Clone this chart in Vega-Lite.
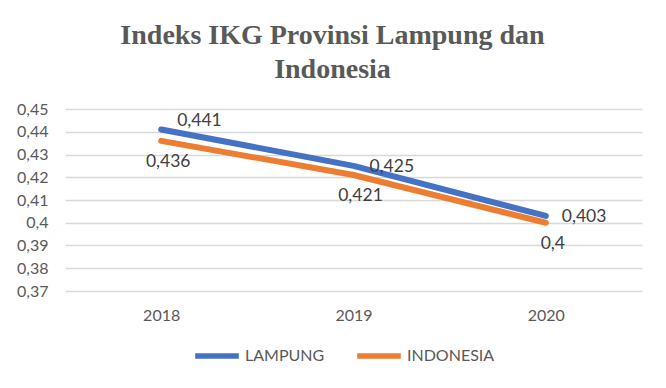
{
  "$schema": "https://vega.github.io/schema/vega-lite/v6.json",
  "width": 577,
  "height": 182,
  "autosize": {"type": "none"},
  "padding": {"left": 65, "top": 109, "right": 24, "bottom": 97},
  "background": "white",
  "config": {
    "locale": {"number": {"decimal": ",", "thousands": ".", "grouping": [3], "currency": ["", ""]}},
    "view": {"stroke": null},
    "font": "Lato"
  },
  "title": {
    "text": ["Indeks IKG Provinsi Lampung dan", "Indonesia"],
    "font": "Liberation Serif",
    "fontSize": 28,
    "fontWeight": "bold",
    "color": "#595959",
    "anchor": "middle",
    "frame": "group",
    "dx": -21,
    "lineHeight": 34,
    "offset": 17
  },
  "data": {
    "values": [
      {"year": "2018", "series": "LAMPUNG", "value": 0.441},
      {"year": "2019", "series": "LAMPUNG", "value": 0.425},
      {"year": "2020", "series": "LAMPUNG", "value": 0.403},
      {"year": "2018", "series": "INDONESIA", "value": 0.436},
      {"year": "2019", "series": "INDONESIA", "value": 0.421},
      {"year": "2020", "series": "INDONESIA", "value": 0.4}
    ]
  },
  "encoding": {
    "x": {
      "field": "year", "type": "ordinal",
      "scale": {"type": "point", "padding": 0.5},
      "axis": {"title": null, "domain": false, "ticks": false, "labelAngle": 0, "labelPadding": 16, "labelFont": "Lato", "labelFontSize": 16, "labelColor": "#595959", "grid": false}
    },
    "y": {
      "field": "value", "type": "quantitative",
      "scale": {"domain": [0.37, 0.45], "nice": false, "zero": false},
      "axis": {"title": null, "domain": false, "ticks": false, "values": [0.37, 0.38, 0.39, 0.4, 0.41, 0.42, 0.43, 0.44, 0.45], "format": ".2~f", "labelPadding": 17, "labelFont": "Lato", "labelFontSize": 16, "labelColor": "#595959", "gridColor": "#D9D9D9", "gridWidth": 1.5}
    }
  },
  "layer": [
    {
      "mark": {"type": "line", "strokeWidth": 6, "strokeCap": "round", "strokeJoin": "round"},
      "encoding": {
        "color": {
          "field": "series", "type": "nominal",
          "scale": {"domain": ["LAMPUNG", "INDONESIA"], "range": ["#4472C4", "#ED7D31"]},
          "legend": {"title": null, "orient": "none", "direction": "horizontal", "legendX": 127, "legendY": 222, "symbolType": "stroke", "symbolSize": 1900, "symbolStrokeWidth": 5.5, "labelFont": "Lato", "labelFontSize": 16, "labelColor": "#595959", "labelOffset": 3, "columnPadding": 21}
        }
      }
    },
    {
      "transform": [{"filter": "datum.series == 'LAMPUNG' && datum.year == '2018'"}],
      "mark": {"type": "text", "align": "left", "dx": 16, "dy": -8, "font": "Lato", "fontSize": 17.5, "color": "#404040"},
      "encoding": {"text": {"field": "value", "type": "quantitative", "format": ".3~f"}}
    },
    {
      "transform": [{"filter": "datum.series == 'LAMPUNG' && datum.year != '2018'"}],
      "mark": {"type": "text", "align": "left", "dx": 16, "dy": 1, "font": "Lato", "fontSize": 17.5, "color": "#404040"},
      "encoding": {"text": {"field": "value", "type": "quantitative", "format": ".3~f"}}
    },
    {
      "transform": [{"filter": "datum.series == 'INDONESIA'"}],
      "mark": {"type": "text", "align": "center", "dx": 7, "dy": 21, "font": "Lato", "fontSize": 17.5, "color": "#404040"},
      "encoding": {"text": {"field": "value", "type": "quantitative", "format": ".3~f"}}
    }
  ]
}
